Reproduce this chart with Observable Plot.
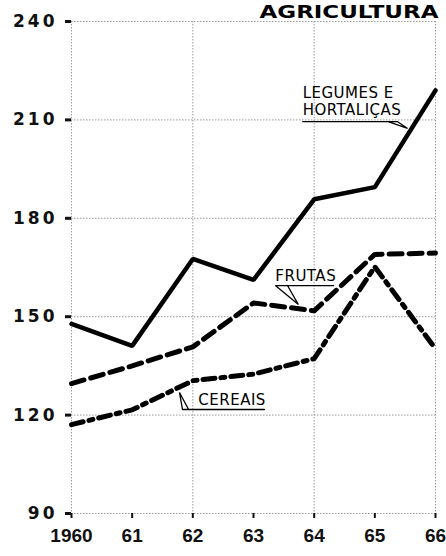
<!DOCTYPE html>
<html>
<head>
<meta charset="utf-8">
<script src="https://cdn.jsdelivr.net/npm/d3@7"></script>
<script src="https://cdn.jsdelivr.net/npm/@observablehq/plot@0.6"></script>
<style>
  html, body { margin: 0; padding: 0; background: #fff; }
  #chart svg { display: block; }
</style>
</head>
<body>
<div id="chart"></div>
<script>
// ---- data ----
const years = [1960, 1961, 1962, 1963, 1964, 1965, 1966];
const legumes = [147.8, 141.1, 167.6, 161.2, 185.8, 189.5, 219.0];
const frutas  = [129.6, 135.0, 140.8, 154.2, 151.8, 169.0, 169.4];
const cereais = [117.1, 121.6, 130.5, 132.5, 137.2, 165.2, 140.2];

const yTicks = [90, 120, 150, 180, 210, 240];
const gridYears = [1960, 1962, 1964, 1966];
const xTickLabels = ["1960", "61", "62", "63", "64", "65", "66"];
const title = "AGRICULTURA";

// series labels (text lines, anchor in data units)
const labelText = ["LEGUMES E", "HORTALIÇAS", "FRUTAS", "CEREAIS"];
const labelX = [1963.81, 1963.81, 1963.36, 1962.09];
const labelY = [218.0, 212.9, 162.3, 124.4];

// leader lines (underline + wedge), data units
const leaderSeries = ["legumes", "legumes", "legumes", "legumes",
                      "frutas", "frutas", "frutas", "frutas",
                      "cereais", "cereais", "cereais", "cereais"];
const leaderX = [1963.81, 1965.37, 1965.54, 1965.22,
                 1964.32, 1963.36, 1963.74, 1963.56,
                 1963.18, 1961.83, 1961.78, 1961.93];
const leaderY = [209.5, 209.5, 207.4, 209.5,
                 159.5, 159.5, 153.7, 159.5,
                 121.7, 121.7, 126.9, 121.7];

// ---- build tables ----
const rows = (vals, name) => years.map((yr, i) => ({year: yr, value: vals[i], series: name}));
const legRows = rows(legumes, "legumes");
const fruRows = rows(frutas, "frutas");
const cerRows = rows(cereais, "cereais");
const labels = labelText.map((t, i) => ({text: t, x: labelX[i], y: labelY[i]}));
const leaders = leaderX.map((x, i) => ({x, y: leaderY[i], series: leaderSeries[i]}));

const gridStyle = {stroke: "#8a8a8a", strokeOpacity: 0.85, strokeWidth: 1, strokeDasharray: "1.5,1.5"};

const chart = Plot.plot({
  width: 446,
  height: 556,
  marginTop: 21,
  marginBottom: 43,
  marginLeft: 71,
  marginRight: 11,
  x: {domain: [1960, 1966]},
  y: {domain: [90, 240]},
  marks: [
    Plot.gridY(yTicks, gridStyle),
    Plot.gridX(gridYears, gridStyle),
    Plot.axisY(yTicks, {
      tickSize: 6, tickPadding: 8, strokeWidth: 3, stroke: "#111",
      fontSize: 17, fontWeight: "bold", fontFamily: "DejaVu Sans", fill: "#111"
    }),
    Plot.axisX(years, {
      tickSize: 5, tickPadding: 10, strokeWidth: 2, stroke: "#111",
      tickFormat: (d) => xTickLabels[years.indexOf(d)],
      fontSize: 19, fontWeight: "bold", fontFamily: "Liberation Sans", fill: "#111"
    }),
    Plot.line(legRows, {x: "year", y: "value", stroke: "#000", strokeWidth: 4.5, strokeLinejoin: "miter"}),
    Plot.line(fruRows, {x: "year", y: "value", stroke: "#000", strokeWidth: 5, strokeDasharray: "13,7"}),
    Plot.line(cerRows, {x: "year", y: "value", stroke: "#000", strokeWidth: 5, strokeDasharray: "12,6,4,6"}),
    Plot.line(leaders, {x: "x", y: "y", z: "series", stroke: "#000", strokeWidth: 1.3, strokeLinejoin: "miter"}),
    Plot.text(labels, {
      x: "x", y: "y", text: "text", textAnchor: "start", lineAnchor: "middle",
      fontSize: 15, fontFamily: "DejaVu Sans", fill: "#000"
    }),
    Plot.text([title], {
      frameAnchor: "top-right", textAnchor: "end", lineAnchor: "bottom",
      dx: 3, dy: -4, fontSize: 17, fontWeight: 900, fontFamily: "DejaVu Sans", fill: "#000"
    })
  ]
});

document.getElementById("chart").appendChild(chart);

// fine typographic touches
chart.querySelectorAll('[aria-label="y-axis tick label"] text').forEach(t => t.setAttribute("letter-spacing", "3"));
chart.querySelectorAll("text").forEach(t => {
  if (t.textContent === title) {
    t.setAttribute("textLength", "179");
    t.setAttribute("lengthAdjust", "spacingAndGlyphs");
  }
  if (labelText.includes(t.textContent)) t.setAttribute("letter-spacing", "0.5");
});
</script>
</body>
</html>
